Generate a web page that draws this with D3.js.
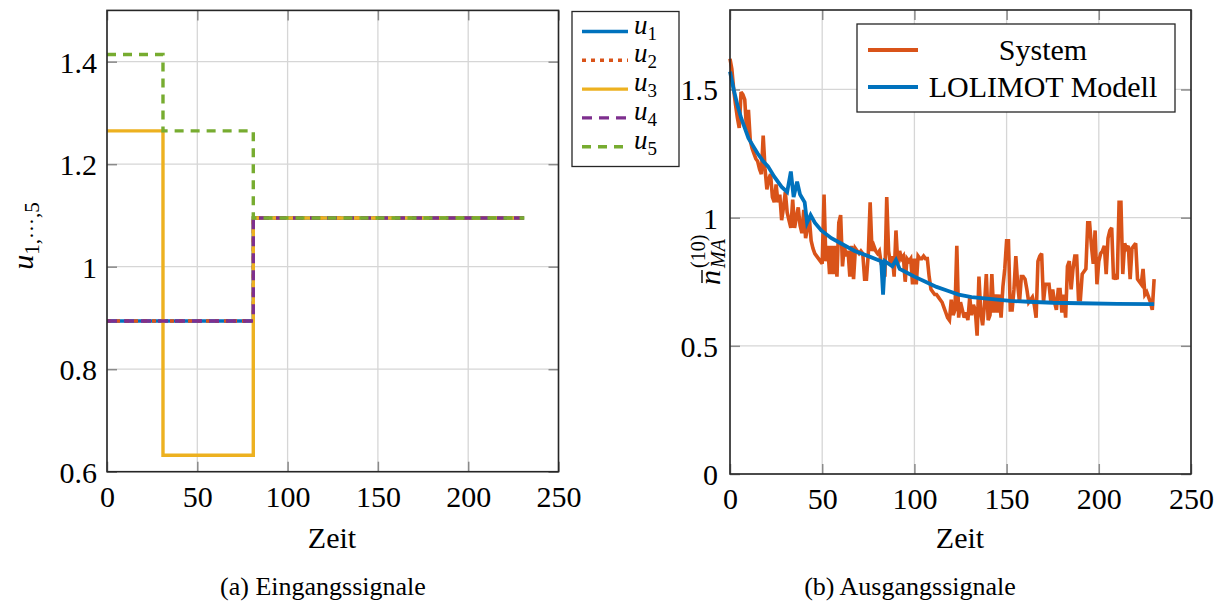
<!DOCTYPE html>
<html>
<head>
<meta charset="utf-8">
<script src="https://cdn.jsdelivr.net/npm/d3@7"></script>
<style>
  body { margin: 0; background: #fff; }
  svg { display: block; }
  text { font-family: "Liberation Serif", "Times New Roman", serif; fill: #000; }
</style>
</head>
<body>
<svg id="chart" width="1223" height="604"></svg>
<script>
// ---------------------------------------------------------------------------
// Data (a) Eingangssignale — Sprungfolgen
// ---------------------------------------------------------------------------
const stepTimes = [0, 31, 81, 231];
const u1 = [0.894, 0.894, 1.095, 1.095];
const u2 = [0.894, 0.894, 1.095, 1.095];
const u3 = [1.265, 0.632, 1.095, 1.095];
const u4 = [0.894, 0.894, 1.095, 1.095];
const u5 = [1.414, 1.265, 1.095, 1.095];
const inputNames  = ['1', '2', '3', '4', '5'];
const inputSeries = [u1, u2, u3, u4, u5];

// ---------------------------------------------------------------------------
// Data (b) Ausgangssignale — System (ein Wert pro Zeitschritt, t = 0..230)
// ---------------------------------------------------------------------------
const systemValues = [
  1.62,1.58,1.50,1.44,1.39,1.35,1.49,1.48,1.46,1.34,
  1.42,1.30,1.27,1.25,1.23,1.22,1.19,1.17,1.32,1.19,
  1.11,1.15,1.17,1.08,1.06,1.13,1.06,1.09,0.99,1.04,
  1.10,1.02,0.99,0.96,1.07,0.96,1.00,1.04,0.97,0.94,
  1.03,0.92,0.96,1.00,0.91,0.88,0.86,0.85,0.84,0.83,
  0.82,1.09,0.83,0.89,0.78,0.89,0.78,0.89,0.77,0.98,
  1.01,0.81,0.89,0.85,0.87,0.77,0.89,0.76,0.88,0.87,
  0.86,0.87,0.86,0.76,0.76,0.86,1.06,0.87,0.89,0.87,
  0.86,0.87,0.82,0.80,0.77,1.08,0.87,0.82,0.85,0.77,
  0.95,0.82,0.87,0.84,0.85,0.75,0.84,0.83,0.84,0.74,
  0.84,0.74,0.85,0.84,0.84,0.85,0.84,0.84,0.77,0.72,
  0.71,0.70,0.70,0.69,0.68,0.67,0.65,0.63,0.61,0.60,
  0.68,0.62,0.64,0.89,0.61,0.67,0.64,0.61,0.63,0.60,
  0.69,0.62,0.66,0.64,0.54,0.77,0.63,0.58,0.66,0.78,
  0.60,0.62,0.78,0.63,0.70,0.63,0.70,0.61,0.73,0.80,
  0.91,0.91,0.64,0.64,0.72,0.85,0.74,0.67,0.77,0.77,
  0.76,0.72,0.67,0.68,0.69,0.66,0.61,0.83,0.85,0.86,
  0.67,0.74,0.74,0.74,0.67,0.72,0.67,0.64,0.72,0.72,
  0.63,0.70,0.61,0.81,0.83,0.72,0.80,0.85,0.85,0.68,
  0.68,0.78,0.79,0.80,0.98,0.98,0.89,0.82,0.95,0.74,
  0.83,0.86,0.87,0.89,0.78,0.92,0.95,0.96,0.76,0.77,
  0.76,1.06,1.06,0.78,0.90,0.88,0.89,0.76,0.88,0.89,
  0.90,0.76,0.75,0.74,0.80,0.70,0.71,0.69,0.67,0.64,
  0.76
];

// LOLIMOT Modell
const modelTime  = [0,2,4,6,8,10,12.5,15,18,20.6,24,28,31,33,34.5,36.4,38,40.5,41.8,43.7,46,49.5,
                    55,60,67.6,75,82,83,84,86,88,90,92,96,100,106,112,118,124,131,138,145,152,162,175,190,210,230];
const modelValue = [1.57,1.50,1.44,1.39,1.35,1.31,1.28,1.25,1.22,1.20,1.16,1.12,1.10,1.18,1.08,1.14,1.09,1.06,0.98,1.01,0.98,0.95,
                    0.92,0.90,0.87,0.85,0.83,0.70,0.83,0.82,0.81,0.835,0.80,0.785,0.77,0.75,0.73,0.715,0.70,0.69,0.685,0.68,0.675,0.672,0.668,0.666,0.664,0.663];

const xTicks      = [0, 50, 100, 150, 200, 250];
const leftYTicks  = [0.6, 0.8, 1, 1.2, 1.4];
const rightYTicks = [0, 0.5, 1, 1.5];

// MATLAB-Farben wie im Original
const COLORS = ['#0072BD', '#D95319', '#EDB120', '#7E2F8E', '#77AC30'];
const DASHES = [null, '4,5', null, '10,7', '9,7'];

const svg = d3.select('#chart');
const fmt = d3.format('~g');

// ---------------------------------------------------------------------------
// Achsen-Rahmen im pgfplots-Stil (Gitter, Ticks innen auf allen Seiten)
// ---------------------------------------------------------------------------
function drawFrame(x, y, yTicks, labelGap) {
    const [x0, x1] = x.range();
    const [y0, y1] = y.range(); // y0 = unten
    const g = svg.append('g');

    // Gitter
    g.append('g').selectAll('line').data(xTicks).join('line')
        .attr('x1', d => x(d)).attr('x2', d => x(d))
        .attr('y1', y1).attr('y2', y0)
        .attr('stroke', '#d6d6d6').attr('stroke-width', 1.3);
    g.append('g').selectAll('line').data(yTicks).join('line')
        .attr('x1', x0).attr('x2', x1)
        .attr('y1', d => y(d)).attr('y2', d => y(d))
        .attr('stroke', '#d6d6d6').attr('stroke-width', 1.3);

    const styleAxis = sel => {
        sel.attr('font-family', null);
        sel.select('.domain').remove();
        sel.selectAll('.tick line').attr('stroke', '#8a8a8a').attr('stroke-width', 1.5);
        sel.selectAll('text').style('font-size', '30px').attr('fill', '#000');
    };

    g.append('g').attr('transform', `translate(0,${y0})`)
        .call(d3.axisBottom(x).tickValues(xTicks).tickFormat(fmt).tickSize(-10))
        .call(styleAxis)
        .call(s => s.selectAll('text').attr('y', 35).attr('dy', null));
    g.append('g').attr('transform', `translate(0,${y1})`)
        .call(d3.axisTop(x).tickValues(xTicks).tickFormat('').tickSize(-10))
        .call(styleAxis);
    g.append('g').attr('transform', `translate(${x0},0)`)
        .call(d3.axisLeft(y).tickValues(yTicks).tickFormat(fmt).tickSize(-10))
        .call(styleAxis)
        .call(s => s.selectAll('text').attr('x', -labelGap).attr('dy', '0.35em'));
    g.append('g').attr('transform', `translate(${x1},0)`)
        .call(d3.axisRight(y).tickValues(yTicks).tickFormat('').tickSize(-10))
        .call(styleAxis);

    return g;
}

function closeFrame(x, y) {
    const [x0, x1] = x.range();
    const [y0, y1] = y.range();
    svg.append('rect')
        .attr('x', x0).attr('y', y1)
        .attr('width', x1 - x0).attr('height', y0 - y1)
        .attr('fill', 'none').attr('stroke', '#262626').attr('stroke-width', 1.6);
}

// ---------------------------------------------------------------------------
// (a) Eingangssignale
// ---------------------------------------------------------------------------
const xA = d3.scaleLinear().domain([0, 250]).range([107, 558.5]);
const yA = d3.scaleLinear().domain([0.6, 1.5]).range([471.7, 10.4]);
drawFrame(xA, yA, leftYTicks, 10);

const stepLine = d3.line()
    .x(d => xA(d[0]))
    .y(d => yA(d[1]))
    .curve(d3.curveStepAfter);

inputSeries.forEach((vals, i) => {
    svg.append('path')
        .datum(stepTimes.map((t, k) => [t, vals[k]]))
        .attr('d', stepLine)
        .attr('fill', 'none')
        .attr('stroke', COLORS[i])
        .attr('stroke-width', 3.4)
        .attr('stroke-dasharray', DASHES[i]);
});
closeFrame(xA, yA);

// Legende (a)
const legA = svg.append('g');
legA.append('rect')
    .attr('x', 572).attr('y', 11.5).attr('width', 107).attr('height', 155)
    .attr('fill', '#fff').attr('stroke', '#262626').attr('stroke-width', 1.3);
inputNames.forEach((name, i) => {
    const ly = 31.5 + i * 28.8;
    legA.append('line')
        .attr('x1', 582).attr('x2', 628).attr('y1', ly).attr('y2', ly)
        .attr('stroke', COLORS[i]).attr('stroke-width', 3.4)
        .attr('stroke-dasharray', DASHES[i]);
    const t = legA.append('text').attr('x', 634).attr('y', ly + 2).style('font-size', '27px');
    t.append('tspan').style('font-style', 'italic').text('u');
    t.append('tspan').attr('dy', 6).style('font-size', '19px').text(name);
});

// y-Beschriftung (a)
const ylabA = svg.append('text')
    .attr('transform', 'translate(33,236) rotate(-90)')
    .attr('text-anchor', 'middle')
    .style('font-size', '30px');
ylabA.append('tspan').style('font-style', 'italic').text('u');
ylabA.append('tspan').attr('dy', 6).style('font-size', '21px').text('1,···,5');

svg.append('text').attr('x', 332).attr('y', 548).attr('text-anchor', 'middle')
    .style('font-size', '30px').text('Zeit');
svg.append('text').attr('x', 323).attr('y', 595).attr('text-anchor', 'middle')
    .style('font-size', '26px').text('(a) Eingangssignale');

// ---------------------------------------------------------------------------
// (b) Ausgangssignale
// ---------------------------------------------------------------------------
const xB = d3.scaleLinear().domain([0, 250]).range([730, 1191]);
const yB = d3.scaleLinear().domain([0, 1.81]).range([474, 10]);
drawFrame(xB, yB, rightYTicks, 12);

const sysLine = d3.line()
    .x((d, i) => xB(i))
    .y(d => yB(d));
svg.append('path')
    .datum(systemValues)
    .attr('d', sysLine)
    .attr('fill', 'none')
    .attr('stroke', COLORS[1])
    .attr('stroke-width', 3.6)
    .attr('stroke-linejoin', 'miter')
    .attr('stroke-miterlimit', 3);

const modelLine = d3.line()
    .x(d => xB(d[0]))
    .y(d => yB(d[1]));
svg.append('path')
    .datum(modelTime.map((t, k) => [t, modelValue[k]]))
    .attr('d', modelLine)
    .attr('fill', 'none')
    .attr('stroke', COLORS[0])
    .attr('stroke-width', 3.8);
closeFrame(xB, yB);

// Legende (b)
const legB = svg.append('g');
legB.append('rect')
    .attr('x', 857).attr('y', 24).attr('width', 318).attr('height', 88)
    .attr('fill', '#fff').attr('stroke', '#262626').attr('stroke-width', 1.3);
[['System', COLORS[1], 50], ['LOLIMOT Modell', COLORS[0], 87]].forEach(([label, c, ly]) => {
    legB.append('line')
        .attr('x1', 868).attr('x2', 918).attr('y1', ly).attr('y2', ly)
        .attr('stroke', c).attr('stroke-width', 3.8);
    legB.append('text')
        .attr('x', 1043).attr('y', ly + 10).attr('text-anchor', 'middle')
        .style('font-size', '30px').text(label);
});

// y-Beschriftung (b): n-quer mit (10) und MA
const ylabB = svg.append('g').attr('transform', 'translate(720,240) rotate(-90)');
ylabB.append('text').attr('x', -45).attr('y', 0)
    .style('font-size', '30px').style('font-style', 'italic').text('n');
ylabB.append('line')
    .attr('x1', -43).attr('x2', -30).attr('y1', -18).attr('y2', -18)
    .attr('stroke', '#000').attr('stroke-width', 1.4);
ylabB.append('text').attr('x', -28).attr('y', -15)
    .style('font-size', '20px').text('(10)');
ylabB.append('text').attr('x', -28).attr('y', 5)
    .style('font-size', '20px').style('font-style', 'italic').text('MA');

svg.append('text').attr('x', 960).attr('y', 548).attr('text-anchor', 'middle')
    .style('font-size', '30px').text('Zeit');
svg.append('text').attr('x', 910).attr('y', 595).attr('text-anchor', 'middle')
    .style('font-size', '26px').text('(b) Ausgangssignale');
</script>
</body>
</html>
